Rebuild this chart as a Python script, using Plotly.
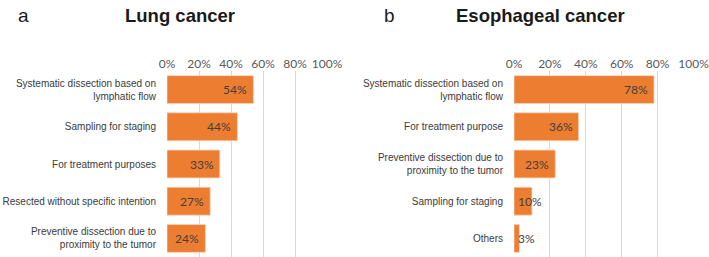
import plotly.graph_objects as go

lung_cats = ["Systematic dissection based on<br>lymphatic flow", "Sampling for staging",
             "For treatment purposes", "Resected without specific intention",
             "Preventive dissection due to<br>proximity to the tumor"]
lung_vals = [54, 44, 33, 27, 24]

eso_cats = ["Systematic dissection based on<br>lymphatic flow", "For treatment purpose",
            "Preventive dissection due to<br>proximity to the tumor", "Sampling for staging",
            "Others"]
eso_vals = [78, 36, 23, 10, 3]

tick_vals = [0, 20, 40, 60, 80, 100]
tick_text = ["0%", "20%", "40%", "60%", "80%", "100%"]

ORANGE = "#ED7D31"
W, H = 709, 257

fig = go.Figure()
fig.add_trace(go.Bar(x=lung_vals, y=lung_cats, orientation="h", xaxis="x", yaxis="y",
                     marker=dict(color=ORANGE, line=dict(color="#F9D3BA", width=0.8)),
                     hoverinfo="skip", showlegend=False))
fig.add_trace(go.Bar(x=eso_vals, y=eso_cats, orientation="h", xaxis="x2", yaxis="y2",
                     marker=dict(color=ORANGE, line=dict(color="#F9D3BA", width=0.8)),
                     hoverinfo="skip", showlegend=False))

top = 1 - 71 / H
xcommon = dict(range=[0, 100], side="top", tickvals=tick_vals, ticktext=tick_text,
               showgrid=True, gridcolor="#D9D9D9", gridwidth=1, zeroline=False,
               showline=False, ticks="", tickfont=dict(family="Lato", size=12, color="#595959"),
               ticklabeloverflow="allow",
               automargin=False, fixedrange=True)
ycommon = dict(autorange="reversed", showgrid=False, zeroline=False, showline=False,
               ticks="outside", ticklen=8, tickcolor="rgba(0,0,0,0)",
               tickfont=dict(family="Liberation Sans", size=10, color="#3a3a3a"),
               ticklabeloverflow="allow",
               automargin=False, domain=[0, top], fixedrange=True)

fig.update_layout(
    width=W, height=H, margin=dict(l=0, r=0, t=0, b=0),
    paper_bgcolor="white", plot_bgcolor="white", bargap=0.25,
    xaxis=dict(domain=[167 / W, 327 / W], anchor="y", **xcommon),
    yaxis=dict(anchor="x", **ycommon),
    xaxis2=dict(domain=[514 / W, 693.5 / W], anchor="y2", **xcommon),
    yaxis2=dict(anchor="x2", **ycommon),
)

anns = []
lab_font = dict(family="Lato", size=12, color="#404040")
for xa, ya, cats, vals in [("x", "y", lung_cats, lung_vals), ("x2", "y2", eso_cats, eso_vals)]:
    for c, v in zip(cats, vals):
        if v >= 15:
            anns.append(dict(x=v, y=c, xref=xa, yref=ya, text=f"{v}%", showarrow=False,
                             xanchor="right", xshift=-4, font=lab_font))
        else:
            anns.append(dict(x=0, y=c, xref=xa, yref=ya, text=f"{v}%", showarrow=False,
                             xanchor="left", xshift=2, font=lab_font))

for txt, xc, bold in [("a", 23, False), ("Lung cancer", 180, True),
                      ("b", 389, False), ("Esophageal cancer", 540, True)]:
    anns.append(dict(x=xc / W, y=1 - 15 / H, xref="paper", yref="paper",
                     text=f"<b>{txt}</b>" if bold else txt, showarrow=False,
                     xanchor="center", yanchor="middle",
                     font=dict(family="Liberation Sans", size=18.5 if bold else 19, color="#1a1a1a")))

fig.update_layout(annotations=anns)
fig.write_html("out.html")
